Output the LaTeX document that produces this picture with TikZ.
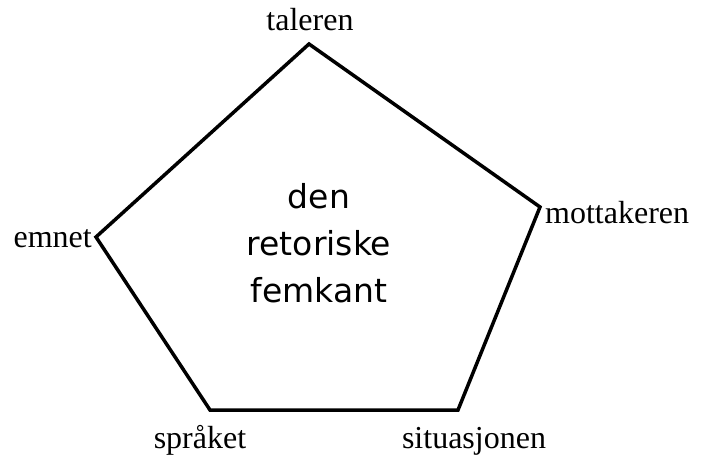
\documentclass[tikz,border=0pt]{standalone}
\usepackage{fontspec}
\setmainfont{Liberation Serif}
\newfontfamily\centerfont{DejaVu Sans}
\usetikzlibrary{positioning}

\begin{document}
\begin{tikzpicture}[x=1pt,y=-1pt,
  corner/.style={font=\fontsize{32}{32}\selectfont,inner sep=0pt},
  edge/.style={line width=3.5pt,line join=miter}]
\useasboundingbox (0,0) rectangle (702,457);
% hjoerner i femkanten
\coordinate (tal) at (309,44);
\coordinate (mot) at (540,207);
\coordinate (sit) at (458,410);
\coordinate (spr) at (210,410);
\coordinate (emn) at (96,237);
\draw[edge] (tal) -- (mot) -- (sit) -- (spr) -- (emn) -- cycle;
\node[corner,anchor=base] (taleren) at (310,31) {taleren};
\node[corner,anchor=base west] (mottakeren) at (545,224) {mottakeren};
\node[corner,anchor=base east] (emnet) at (92,248) {emnet};
\node[corner,anchor=base] (spraket) at (200,448) {språket};
\node[corner,anchor=base] (situasjonen) at (474,448) {situasjonen};
\node[font=\centerfont\fontsize{33}{47}\selectfont,align=center,anchor=base]
  (midt) at (319,302) {den\\retoriske\\femkant};
\end{tikzpicture}
\end{document}
